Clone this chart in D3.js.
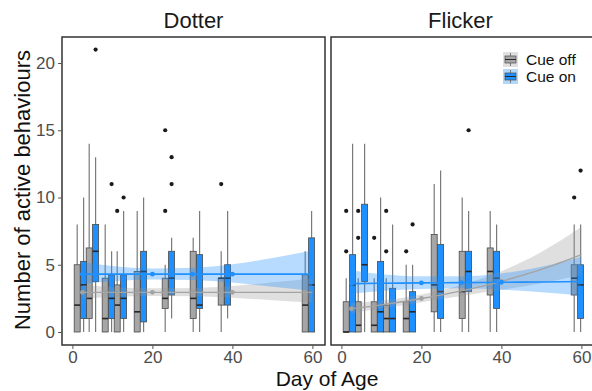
<!DOCTYPE html>
<html><head><meta charset="utf-8">
<script src="https://cdn.jsdelivr.net/npm/d3@7"></script>
<style>body{margin:0;background:#fff}svg{display:block;font-family:"Liberation Sans",Arial,Helvetica,sans-serif}</style>
</head><body><svg id="c" width="592" height="391"></svg>
<script>
// ---------- data ----------
const panels = ["Dotter", "Flicker"];
const cues = ["Cue off", "Cue on"];
const days = [2, 5, 9, 12, 17, 24, 31, 38, 59];
const xTicks = [0, 20, 40, 60];
const yTicks = [0, 5, 10, 15, 20];
// box stats per day: [lower whisker, Q1, median, Q3, upper whisker]
const dotterOff = [[0,0,2,5,8],[0,1,2.5,6.25,14],[0,0,1,4,8],[0,0,2,3.5,6],[0,0,1.5,4.5,9],[0,1.75,2.5,4,5],[0,1,2.5,6,7],[0,2,4,4,6],[0,0,2,4.25,6]];
const dotterOn  = [[0,1,3.5,5.25,10],[0,3.75,6,8,13],[0,1,2.5,4.25,6],[0,1,2.5,4.25,9],[0,0.75,4.5,6,10],[1,2.75,4,6,7],[0,1.75,2,5.75,9],[1,2,4,5,9],[0,0,3.5,7,9]];
const flickerOff = [[0,0,0,2.25,4],[0,0,0.5,2.25,4],[0,0,0.5,2.25,4],[0,0,1,2,4],[0,0,1,2.25,5],[0,1.5,3.5,7.25,11],[0,1,3,6,10],[0,2.75,4.5,6.25,9],[0,2.75,4,5,8]];
const flickerOn  = [[0,0,3.5,5.75,14],[0,3.75,5,9.5,14],[0,0,1.5,5.25,10],[0,0,1,3.25,8],[0,0,1.5,3,5],[0,1,3,6.5,12],[0,3,4.5,6,9],[0,1.75,4,6,8],[0,1,3.5,5,8]];
const dotterOffOut = [[],[],[],[9],[],[9,15],[],[11],[]];
const dotterOnOut  = [[],[21],[11],[10],[],[11,13],[],[],[]];
const flickerOffOut = [[6,9],[7,9],[7],[6,9],[6],[],[],[],[10]];
const flickerOnOut  = [[],[],[],[],[8],[],[15],[],[12]];
// fitted trend
const fitDays = [2.5, 10, 20, 30, 40, 50, 60];
const dotterOffFit = [2.95,2.95,2.95,2.95,2.95,2.95,2.95];
const dotterOffLo  = [2.48,2.61,2.68,2.66,2.54,2.36,2.19];
const dotterOffHi  = [3.51,3.33,3.25,3.27,3.42,3.69,3.98];
const dotterOnFit  = [4.3,4.3,4.3,4.3,4.3,4.3,4.3];
const dotterOnLo   = [3.55,3.77,3.91,3.87,3.68,3.36,3.05];
const dotterOnHi   = [5.2,4.9,4.73,4.77,5.03,5.5,6.06];
const flickerOffFit = [1.73,2.02,2.49,3.06,3.77,4.65,5.75];
const flickerOffLo  = [1.4,1.74,2.22,2.68,3.14,3.63,4.23];
const flickerOffHi  = [2.15,2.34,2.79,3.49,4.52,5.95,7.82];
const flickerOnFit  = [3.6,3.62,3.65,3.67,3.7,3.72,3.75];
const flickerOnLo   = [2.85,3.05,3.2,3.25,3.15,2.95,2.7];
const flickerOnHi   = [4.6,4.3,4.15,4.15,4.35,4.85,5.6];
const markerDaysOff = [2.5, 20, 40];
const markerDaysOn = [2.5, 20, 30, 40];

// ---------- styling / layout ----------
const boxFill = {"Cue off": "#a6a6a6", "Cue on": "#1e90ff"};
const lineCol = {"Cue off": "#a3a3a3", "Cue on": "#1e90ff"};
const ribbonCol = {"Cue off": "rgba(150,150,150,0.3)", "Cue on": "rgba(30,144,255,0.32)"};
const dodge = 0.8, boxW = 1.5;
const panelX = [62, 331], panelW = 263, panelTop = 37, panelBot = 345;

const svg = d3.select("#c");
const y = d3.scaleLinear().domain([0, 20]).range([332, 63]);

const panelData = [
  {name: panels[0], off: dotterOff, on: dotterOn, offOut: dotterOffOut, onOut: dotterOnOut,
   fits: {"Cue off": [dotterOffFit, dotterOffLo, dotterOffHi], "Cue on": [dotterOnFit, dotterOnLo, dotterOnHi]}},
  {name: panels[1], off: flickerOff, on: flickerOn, offOut: flickerOffOut, onOut: flickerOnOut,
   fits: {"Cue off": [flickerOffFit, flickerOffLo, flickerOffHi], "Cue on": [flickerOnFit, flickerOnLo, flickerOnHi]}}
];

panelData.forEach((p, pi) => {
  const x = d3.scaleLinear().domain([-2.6, 63.15]).range([panelX[pi], panelX[pi] + panelW]);
  const g = svg.append("g");
  const clipId = "clip" + pi;
  svg.append("clipPath").attr("id", clipId).append("rect")
    .attr("x", panelX[pi]).attr("y", panelTop).attr("width", panelW).attr("height", panelBot - panelTop);
  const plot = g.append("g").attr("clip-path", `url(#${clipId})`);

  // boxes
  cues.forEach(cue => {
    const stats = cue === "Cue off" ? p.off : p.on;
    const outs = cue === "Cue off" ? p.offOut : p.onOut;
    const off = cue === "Cue off" ? -dodge : dodge;
    stats.forEach((s, i) => {
      const cx = x(days[i] + off);
      const w = x(boxW) - x(0);
      plot.append("line").attr("x1", cx).attr("x2", cx).attr("y1", y(s[3])).attr("y2", y(s[4]))
        .attr("stroke", "#7a7a7a").attr("stroke-width", 1.2);
      plot.append("line").attr("x1", cx).attr("x2", cx).attr("y1", y(s[1])).attr("y2", y(s[0]))
        .attr("stroke", "#7a7a7a").attr("stroke-width", 1.2);
      plot.append("rect").attr("x", cx - w / 2).attr("width", w)
        .attr("y", y(s[3])).attr("height", Math.max(0.5, y(s[1]) - y(s[3])))
        .attr("fill", boxFill[cue]).attr("stroke", "#4a4a4a").attr("stroke-width", 0.8);
      plot.append("line").attr("x1", cx - w / 2).attr("x2", cx + w / 2).attr("y1", y(s[2])).attr("y2", y(s[2]))
        .attr("stroke", "#262626").attr("stroke-width", 1.6);
      outs[i].forEach(o => {
        plot.append("circle").attr("cx", cx).attr("cy", y(o)).attr("r", 2.1).attr("fill", "#1a1a1a");
      });
    });
  });

  // ribbons and trend lines
  cues.forEach(cue => {
    const [fit, lo, hi] = p.fits[cue];
    const pts = fitDays.map((d, i) => ({d, f: fit[i], lo: lo[i], hi: hi[i]}));
    plot.append("path").datum(pts)
      .attr("d", d3.area().curve(d3.curveMonotoneX).x(d => x(d.d)).y0(d => y(d.lo)).y1(d => y(d.hi)))
      .attr("fill", ribbonCol[cue]).attr("stroke", "none");
  });
  cues.forEach(cue => {
    const [fit] = p.fits[cue];
    const pts = fitDays.map((d, i) => ({d, f: fit[i]}));
    plot.append("path").datum(pts)
      .attr("d", d3.line().curve(d3.curveMonotoneX).x(d => x(d.d)).y(d => y(d.f)))
      .attr("fill", "none").attr("stroke", lineCol[cue]).attr("stroke-width", cue === "Cue on" ? 1.6 : 1.3);
    const md = cue === "Cue off" ? markerDaysOff : markerDaysOn;
    md.forEach(d => {
      const i = d3.bisectLeft(fitDays, d);
      let v;
      if (fitDays[i] === d) v = fit[i];
      else { const t = (d - fitDays[i - 1]) / (fitDays[i] - fitDays[i - 1]); v = fit[i - 1] + t * (fit[i] - fit[i - 1]); }
      plot.append("circle").attr("cx", x(d)).attr("cy", y(v)).attr("r", 2.4).attr("fill", lineCol[cue]);
    });
  });

  // panel border
  g.append("rect").attr("x", panelX[pi]).attr("y", panelTop).attr("width", panelW).attr("height", panelBot - panelTop)
    .attr("fill", "none").attr("stroke", "#333").attr("stroke-width", 1.5);

  // x axis
  const xa = g.append("g").attr("transform", `translate(0,${panelBot})`)
    .call(d3.axisBottom(x).tickValues(xTicks).tickSize(4).tickPadding(2).tickFormat(d3.format("d")));
  xa.select(".domain").remove();
  xa.selectAll(".tick line").attr("stroke", "#555");
  xa.selectAll(".tick text").attr("fill", "#4d4d4d").style("font-size", "17px").attr("font-family", null);

  // y axis (left panel only)
  if (pi === 0) {
    const ya = g.append("g").attr("transform", `translate(${panelX[0]},0)`)
      .call(d3.axisLeft(y).tickValues(yTicks).tickSize(4).tickPadding(3));
    ya.select(".domain").remove();
    ya.selectAll(".tick line").attr("stroke", "#555");
    ya.selectAll(".tick text").attr("fill", "#4d4d4d").style("font-size", "17px").attr("font-family", null);
  }

  // panel title
  g.append("text").attr("x", panelX[pi] + panelW / 2 - (pi === 1 ? 2 : 0)).attr("y", 28)
    .attr("text-anchor", "middle").style("font-size", "22px").attr("fill", "#1a1a1a").text(p.name);
});

// axis titles
svg.append("text").attr("x", 327).attr("y", 386).attr("text-anchor", "middle")
  .style("font-size", "21px").attr("fill", "#111").text("Day of Age");
svg.append("text").attr("transform", "translate(30,190) rotate(-90)").attr("text-anchor", "middle")
  .style("font-size", "22px").attr("fill", "#111").text("Number of active behaviours");

// legend
const legend = svg.append("g");
cues.forEach((cue, i) => {
  const ky = 52 + i * 17, kx = 503;
  legend.append("rect").attr("x", kx).attr("y", ky).attr("width", 15).attr("height", 15)
    .attr("fill", cue === "Cue off" ? "#e0e0e0" : "#b3d7fb");
  legend.append("line").attr("x1", kx + 7.5).attr("x2", kx + 7.5).attr("y1", ky + 1).attr("y2", ky + 14)
    .attr("stroke", "#7a7a7a").attr("stroke-width", 1);
  legend.append("rect").attr("x", kx + 2).attr("y", ky + 4).attr("width", 11).attr("height", 7)
    .attr("fill", boxFill[cue]).attr("stroke", "#4a4a4a").attr("stroke-width", 0.7);
  legend.append("line").attr("x1", kx + 2).attr("x2", kx + 13).attr("y1", ky + 7.5).attr("y2", ky + 7.5)
    .attr("stroke", "#262626").attr("stroke-width", 1);
  legend.append("text").attr("x", 526).attr("y", ky + 13).style("font-size", "15.5px").attr("fill", "#111").text(cue);
});
</script></body></html>
